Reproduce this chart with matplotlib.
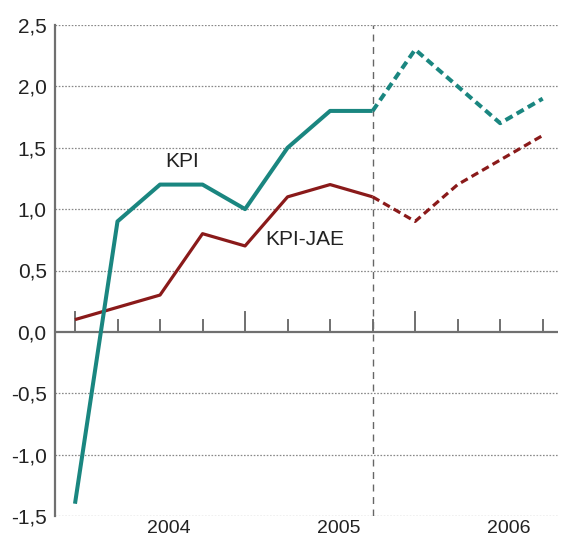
import numpy as np
import matplotlib
matplotlib.use("Agg")
import matplotlib.pyplot as plt

# quarterly data, 2004Q1 .. 2006Q4; last 5 points (from index 7) are forecast
kpi     = [-1.4, 0.9, 1.2, 1.2, 1.0, 1.5, 1.8, 1.8, 2.3, 2.0, 1.7, 1.9]
kpi_jae = [0.1, 0.2, 0.3, 0.8, 0.7, 1.1, 1.2, 1.1, 0.9, 1.2, 1.4, 1.6]
split = 7
year_labels = ["2004", "2005", "2006"]
year_pos = [2.2, 6.2, 10.2]
yticks = [-1.5, -1.0, -0.5, 0.0, 0.5, 1.0, 1.5, 2.0, 2.5]

teal = "#1a8680"
red = "#8a1a1a"
grey = "#707070"
plt.rcParams['font.family'] = ['Liberation Sans', 'DejaVu Sans']

fig = plt.figure(figsize=(5.61, 5.42), dpi=100)
ax = fig.add_axes([55/561, 26/542, 503/561, 491/542])

x = np.arange(len(kpi))
ax.plot(x[:split+1], kpi[:split+1], color=teal, lw=2.9, solid_capstyle='butt', zorder=4)
ax.plot(x[split:], kpi[split:], color=teal, lw=2.9, ls=(0, (2.0, 1.2)), zorder=4)
ax.plot(x[:split+1], kpi_jae[:split+1], color=red, lw=2.3, solid_capstyle='butt', zorder=3)
ax.plot(x[split:], kpi_jae[split:], color=red, lw=2.3, ls=(0, (2.4, 1.4)), zorder=3)

ax.set_xlim(-0.47, 11.36)
ax.set_ylim(-1.5, 2.5)

for v in yticks:
    if v != 0:
        ax.axhline(v, color="#888888", lw=0.9, ls=(0, (1.3, 1.3)), zorder=1)
ax.axhline(0, color=grey, lw=1.6, zorder=2)
ax.axvline(split, color="#666666", lw=1.0, ls=(0, (5, 4)), zorder=2)

# quarter ticks on the zero line, taller at year starts
for i in x:
    h = 0.16 if i % 4 == 0 else 0.10
    ax.plot([i, i], [0, h], color=grey, lw=1.4, zorder=2)

for s in ['top', 'right', 'bottom']:
    ax.spines[s].set_visible(False)
ax.spines['left'].set_color(grey)
ax.spines['left'].set_linewidth(1.6)

ax.set_yticks(yticks)
ax.set_yticklabels([f"{v:.1f}".replace(".", ",") for v in yticks], fontsize=15, color="#222222")
ax.tick_params(axis='y', length=0, pad=6)
ax.set_xticks([])

for lab, p in zip(year_labels, year_pos):
    ax.text(p, -1.5 - 0.03, lab, ha='center', va='top', fontsize=14, color="#222222")

ax.text(2.53, 1.39, "KPI", ha='center', va='center', fontsize=15, color="#222222")
ax.text(5.4, 0.75, "KPI-JAE", ha='center', va='center', fontsize=15, color="#222222")

fig.savefig("out.png", dpi=100)
